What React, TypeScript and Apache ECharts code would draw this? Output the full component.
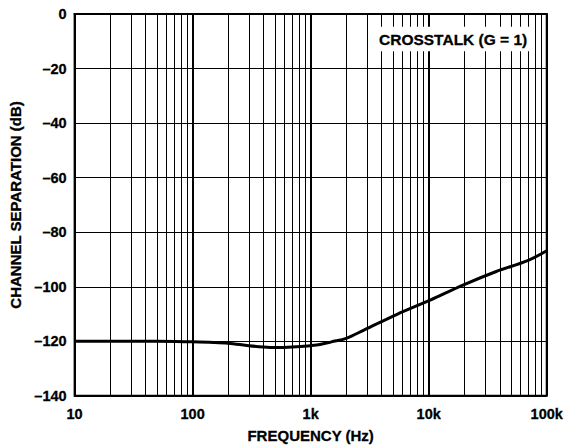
import React, { useEffect, useRef } from "react";
import * as echarts from "echarts";

const freqHz = [10, 20, 50, 100, 150, 200, 300, 400, 500, 700, 1000, 1200, 1500, 2000, 2850, 5400, 10300, 19500, 36900, 69800, 100000];
const separationDb = [-120, -120, -120, -120.2, -120.4, -120.7, -121.6, -122.1, -122.3, -122.1, -121.6, -121.2, -120.2, -118.9, -115.8, -110.1, -104.9, -99.4, -94.5, -90.3, -86.8];

const minorFreqs = [
  20, 30, 40, 50, 60, 70, 80, 90,
  200, 300, 400, 500, 600, 700, 800, 900,
  2000, 3000, 4000, 5000, 6000, 7000, 8000, 9000,
  20000, 30000, 40000, 50000, 60000, 70000, 80000, 90000,
];

const xTickValues = [10, 100, 1000, 10000, 100000];
const xTickLabels = ["10", "100", "1k", "10k", "100k"];

const yMin = -140;
const yMax = 0;
const yStep = 20;

const FONT = "'Liberation Sans', Arial, Helvetica, sans-serif";

export default function App() {
  const ref = useRef<HTMLDivElement>(null);

  useEffect(() => {
    document.body.style.margin = "0";
    if (!ref.current) return;
    const chart = echarts.init(ref.current, undefined, { renderer: "svg" });
    const data = freqHz.map((f, i) => [f, separationDb[i]]);
    const boldText = {
      fontFamily: FONT,
      fontWeight: "bold",
      color: "#000",
      textBorderColor: "#000",
      textBorderWidth: 0.3,
    };
    chart.setOption({
      animation: false,
      backgroundColor: "#fff",
      title: {
        text: "CROSSTALK (G = 1)",
        left: 373,
        top: 27,
        backgroundColor: "#fff",
        padding: [4, 6],
        textStyle: { ...boldText, fontSize: 15.5 },
      },
      grid: {
        left: 72,
        right: 14,
        top: 14,
        bottom: 50,
        show: true,
        borderColor: "#000",
        borderWidth: 2,
        backgroundColor: "transparent",
      },
      xAxis: {
        type: "log",
        logBase: 10,
        min: 10,
        max: 100000,
        name: "FREQUENCY (Hz)",
        nameLocation: "middle",
        nameGap: 32,
        nameTextStyle: { ...boldText, fontSize: 15 },
        axisLine: { show: true, lineStyle: { color: "#000", width: 2 } },
        axisTick: { show: false },
        axisLabel: {
          ...boldText,
          margin: 11,
          fontSize: 14.5,
          formatter: (v: number) => {
            const idx = xTickValues.findIndex((t) => Math.abs(t - v) / t < 1e-6);
            return idx >= 0 ? xTickLabels[idx] : "";
          },
        },
        splitLine: { show: true, lineStyle: { color: "#000", width: 2 } },
      },
      yAxis: {
        type: "value",
        min: yMin,
        max: yMax,
        interval: yStep,
        name: "CHANNEL SEPARATION (dB)",
        nameLocation: "middle",
        nameGap: 42,
        nameTextStyle: { ...boldText, fontSize: 15 },
        axisLine: { show: true, lineStyle: { color: "#000", width: 2 } },
        axisTick: { show: false },
        axisLabel: {
          ...boldText,
          margin: 8,
          fontSize: 14.5,
          formatter: (v: number) => (v < 0 ? "\u2013" + Math.abs(v) : String(v)),
        },
        splitLine: { show: true, lineStyle: { color: "#000", width: 1 } },
      },
      series: [
        {
          type: "line",
          data,
          showSymbol: false,
          smooth: 0.35,
          lineStyle: { color: "#000", width: 3 },
          z: 3,
          markLine: {
            silent: true,
            symbol: ["none", "none"],
            label: { show: false },
            lineStyle: { color: "#000", width: 1, type: "solid" },
            data: minorFreqs.map((f) => ({ xAxis: f })),
          },
        },
      ],
    });
    return () => chart.dispose();
  }, []);

  return <div ref={ref} style={{ width: 566, height: 448 }} />;
}
